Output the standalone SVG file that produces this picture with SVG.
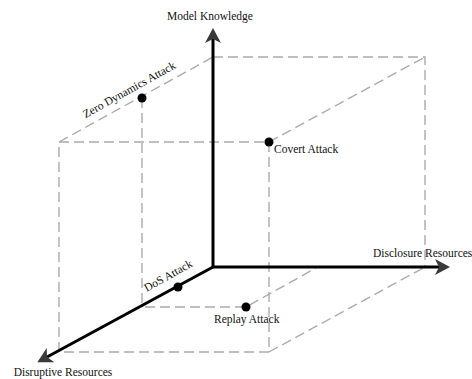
<svg xmlns="http://www.w3.org/2000/svg" width="472" height="379" viewBox="0 0 472 379">
  <style>
    .guide { fill: none; stroke: #ababab; stroke-width: 1.4; stroke-dasharray: 10 5; }
    .axis { fill: none; stroke: #000; stroke-width: 3; }
    .pt { fill: #000; }
    .lbl { font-family: "Liberation Serif", "DejaVu Serif", serif; font-size: 11.5px; fill: #111; }
  </style>
  <defs>
    <marker id="arrow" markerUnits="userSpaceOnUse" viewBox="-1 -10 18 20" markerWidth="18" markerHeight="20" refX="4" refY="0" orient="auto-start-reverse">
      <path d="M0,-8 L15,0 L0,8 L4,0 Z" fill="#3a3a3a"/>
    </marker>
  </defs>

  <!-- dashed cube and projection guides -->
  <g id="guides">
    <path class="guide" d="M213,57 H425 V267"/>
    <path class="guide" d="M59,352 V142 H269 V352 H59"/>
    <path class="guide" d="M59,142 L213,57"/>
    <path class="guide" d="M269,142 L425,57"/>
    <path class="guide" d="M269,352 L425,267"/>
    <path class="guide" d="M142,98 V306"/>
    <path class="guide" d="M145,307 H246 L316,268"/>
  </g>

  <!-- axes -->
  <g id="connectors">
    <polyline class="axis" points="213,39 213,267 439,267" marker-start="url(#arrow)" marker-end="url(#arrow)"/>
    <line class="axis" x1="213" y1="267" x2="47" y2="357" marker-end="url(#arrow)"/>
  </g>

  <!-- axis labels -->
  <g id="axis-model-knowledge">
    <text class="lbl" x="210" y="20" text-anchor="middle">Model Knowledge</text>
  </g>
  <g id="axis-disclosure-resources">
    <text class="lbl" x="373" y="257">Disclosure Resources</text>
  </g>
  <g id="axis-disruptive-resources">
    <text class="lbl" x="63" y="375.5" text-anchor="middle">Disruptive Resources</text>
  </g>

  <!-- attack points -->
  <g id="zero-dynamics-attack">
    <circle class="pt" cx="142" cy="98" r="4.5"/>
    <text class="lbl" text-anchor="middle" transform="translate(131,93) rotate(-29)">Zero Dynamics Attack</text>
  </g>
  <g id="covert-attack">
    <circle class="pt" cx="269" cy="142" r="4.5"/>
    <text class="lbl" x="274" y="153">Covert Attack</text>
  </g>
  <g id="dos-attack">
    <circle class="pt" cx="178" cy="287" r="4.5"/>
    <text class="lbl" text-anchor="middle" transform="translate(170,279) rotate(-29)">DoS Attack</text>
  </g>
  <g id="replay-attack">
    <circle class="pt" cx="246" cy="307" r="4.5"/>
    <text class="lbl" x="214" y="323">Replay Attack</text>
  </g>
</svg>
